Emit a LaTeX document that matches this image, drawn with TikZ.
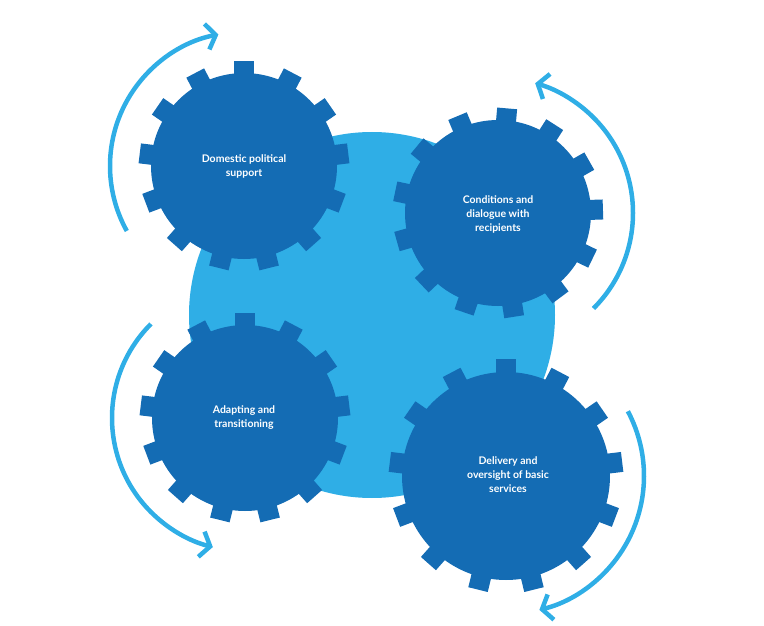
\documentclass[tikz,border=0pt]{standalone}
\usepackage{fontspec}
\setmainfont{Lato}
\usetikzlibrary{arrows.meta,positioning}
\definecolor{gearblue}{RGB}{20,108,180}
\definecolor{skyblue}{RGB}{47,174,230}
\tikzset{
  pics/gear/.style args={#1/#2/#3}{code={
    \fill[gearblue] (0,0) circle (#1);
    \foreach \i in {0,...,12}
      \fill[gearblue, rotate=\i*360/13+#3] (-10,-#2) rectangle (10,-#1+8);
  }},
  gearlabel/.style={text=white, font=\bfseries\fontsize{10.5}{14}\selectfont, align=center},
  cycle/.style={skyblue, line width=4.5pt, -{Straight Barb[length=9pt,width=26pt,line width=4.5pt]}}
}
\begin{document}
\begin{tikzpicture}[x=1pt,y=-1pt]
\useasboundingbox (0,0) rectangle (764,626);
% Background disc
\fill[skyblue] (372,315) circle (183);
% Gears
\pic at (244,166) {gear=93/105/0};
\pic at (498,213) {gear=93/105/-5};
\pic at (245,418) {gear=93/105/0};
\pic at (506,476) {gear=104/117/0};
% Labels
\node[gearlabel] (domestic) at (244,166) {Domestic political\\support};
\node[gearlabel] (conditions) at (498,214) {Conditions and\\dialogue with\\recipients};
\node[gearlabel] (adapting) at (244,418) {Adapting and\\transitioning};
\node[gearlabel] (delivery) at (508,475) {Delivery and\\oversight of basic\\services};
% Arrows
\draw[cycle] (244,166) ++(-209:134) arc[start angle=-209, end angle=-101, radius=134];
\draw[cycle] (498,213) ++(45:135) arc[start angle=45, end angle=-74, radius=135];
\draw[cycle] (245,418) ++(-135:133) arc[start angle=-135, end angle=-256, radius=133];
\draw[cycle] (506,476) ++(-28:138) arc[start angle=-28, end angle=76, radius=138];
\end{tikzpicture}
\end{document}
